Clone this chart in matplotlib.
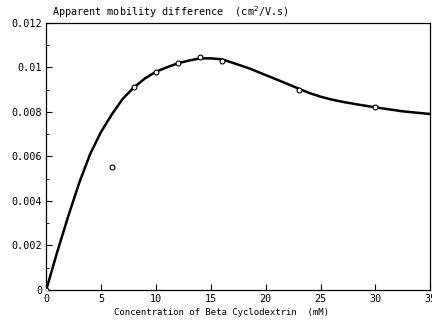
import matplotlib
matplotlib.use("Agg")
import matplotlib.pyplot as plt

# measured points (open circles)
conc = [0, 6, 8, 10, 12, 14, 16, 23, 30]
mobility = [0.0, 0.0055, 0.0091, 0.0098, 0.0102, 0.01045, 0.0103, 0.0090, 0.0082]

# fitted curve
fit_x = [0, 1, 2, 3, 4, 5, 6, 7, 8, 9, 10, 11, 12, 13, 14, 15, 16, 17, 18.5,
         20.3, 22, 23, 24, 25, 26, 27.2, 28.5, 30, 32.5, 35]
fit_y = [0.0, 0.0017, 0.0033, 0.0048, 0.0061, 0.0071, 0.0079, 0.0086, 0.0091, 0.0095,
         0.0098, 0.0100, 0.01018, 0.0103, 0.0104, 0.0104, 0.01036, 0.01020, 0.00995,
         0.00959, 0.00925, 0.00904, 0.00884, 0.00868, 0.00855, 0.00843, 0.00832,
         0.0082, 0.00802, 0.0079]

xticks = [0, 5, 10, 15, 20, 25, 30, 35]
yticks = [0, 0.002, 0.004, 0.006, 0.008, 0.01, 0.012]
ylabels = ["0", "0.002", "0.004", "0.006", "0.008", "0.01", "0.012"]

plt.rcParams['font.family'] = ['DejaVu Sans Mono']
fig = plt.figure(figsize=(4.32, 3.25), dpi=100)
ax = fig.add_axes([0.107, 0.108, 0.889, 0.822])

ax.plot(fit_x, fit_y, color="black", lw=1.8, zorder=2, solid_joinstyle="round")
ax.plot(conc, mobility, "o", ms=3.5, mfc="white", mec="black", mew=0.8, zorder=3)

ax.set_xlim(0, 35)
ax.set_ylim(0, 0.012)
ax.set_xticks(xticks)
ax.set_xticklabels([str(t) for t in xticks])
ax.set_yticks(yticks)
ax.set_yticklabels(ylabels)
ax.set_yticks([0.001, 0.003, 0.005, 0.007, 0.009, 0.011], minor=True)
ax.tick_params(axis="both", which="major", direction="in", length=4, width=0.8, labelsize=7.3, pad=3)
ax.tick_params(axis="y", which="minor", direction="in", length=2, width=0.6)
for s in ax.spines.values():
    s.set_linewidth(0.9)

fig.text(0.512, 0.037, "Concentration of Beta Cyclodextrin  (mM)", fontsize=6.5, va="center", ha="center")
fig.text(0.12, 0.988, "Apparent mobility difference  (cm$^2$/V.s)", fontsize=7.3, va="top", ha="left")

fig.savefig("out.png", dpi=100)
